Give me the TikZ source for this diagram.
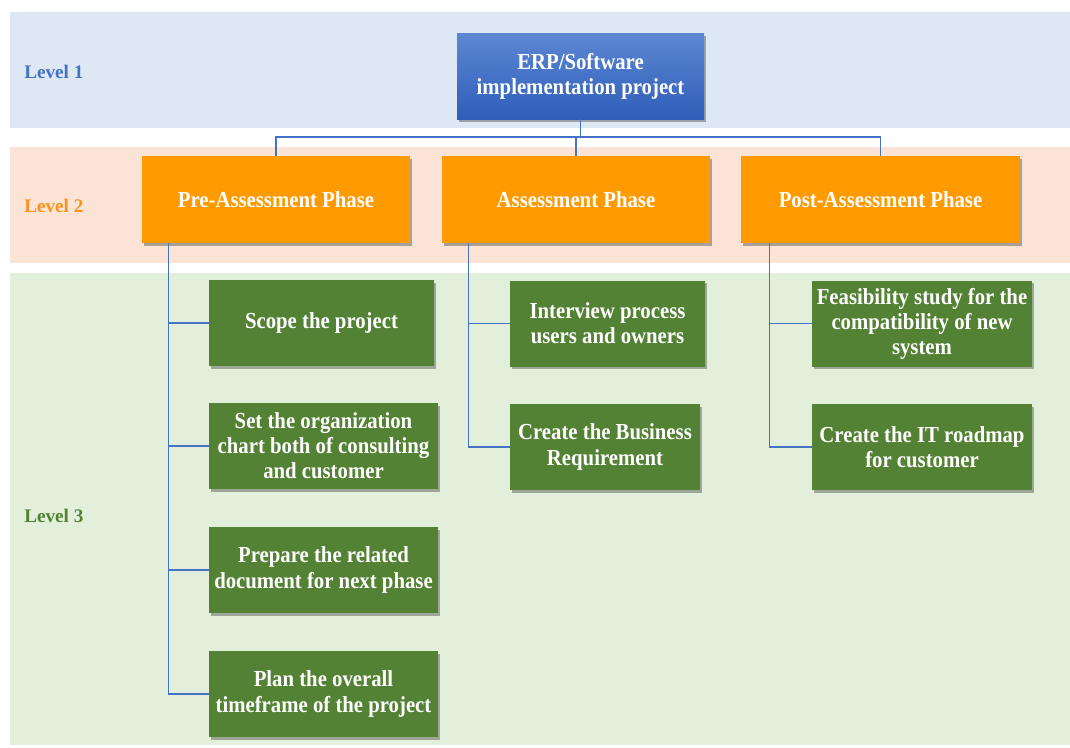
\documentclass[tikz,border=0pt]{standalone}
\usepackage{fontspec}
\setmainfont{Liberation Serif}
% a slightly condensed, taller face for the box captions
\newfontfamily\boxfont[FakeStretch=0.905]{Liberation Serif}
\usetikzlibrary{shadows,calc}

\definecolor{bandOne}{HTML}{DDE8F4}
\definecolor{bandTwo}{HTML}{FBE4D6}
\definecolor{bandThree}{HTML}{E2EFDA}
\definecolor{topLight}{HTML}{5C87D2}
\definecolor{topDark}{HTML}{2F5EB9}
\definecolor{phaseOrange}{HTML}{FF9A00}
\definecolor{taskGreen}{HTML}{548235}
\definecolor{lineBlue}{HTML}{4472C4}
\definecolor{labelOrange}{HTML}{F7941D}

\tikzset{
  boxbase/.style={inner sep=0pt, align=center, text=white,
    font=\boxfont\fontsize{17.2}{18.8}\selectfont\bfseries,
    drop shadow={shadow xshift=1.6pt, shadow yshift=-2pt, opacity=0.45, fill=black!70}},
  rootbox/.style={boxbase, top color=topLight, bottom color=topDark,
    minimum width=185.25pt, minimum height=64.5pt},
  phasebox/.style={boxbase, fill=phaseOrange, minimum height=65.25pt},
  taskbox/.style={boxbase, fill=taskGreen, minimum height=64.5pt},
  conn/.style={draw=lineBlue, line width=1.1pt},
  levellabel/.style={anchor=west, inner sep=0pt, font=\fontsize{14.4}{17}\selectfont\bfseries}
}

\begin{document}
\begin{tikzpicture}[x=0.75pt,y=-0.75pt]
  % canvas and level bands
  \fill[white] (0,0) rectangle (1070,747);
  \useasboundingbox (0,0) rectangle (1070,747);
  \fill[bandOne]   (10,12)  rectangle (1070,128);
  \fill[bandTwo]   (10,147) rectangle (1070,263);
  \fill[bandThree] (10,273) rectangle (1070,745);

  % level captions
  \node[levellabel, text=lineBlue]    (lv1) at (24,72)  {Level 1};
  \node[levellabel, text=labelOrange] (lv2) at (24,206) {Level 2};
  \node[levellabel, text=taskGreen]   (lv3) at (24,516) {Level 3};

  % level 1
  \node[rootbox] (root) at (580.5,76) {ERP/Software\\implementation project};

  % level 2
  \node[phasebox, minimum width=201pt]    (pre)  at (276,199.5)   {Pre-Assessment Phase};
  \node[phasebox, minimum width=201pt]    (ass)  at (576,199.5)   {Assessment Phase};
  \node[phasebox, minimum width=209.25pt] (post) at (880.5,199.5) {Post-Assessment Phase};

  % level 3: pre-assessment tasks
  \node[taskbox, minimum width=168.75pt] (p1) at (321.5,323) {Scope the project};
  \node[taskbox, minimum width=171.75pt] (p2) at (323.5,446) {Set the organization\\chart both of consulting\\and customer};
  \node[taskbox, minimum width=171.75pt] (p3) at (323.5,570) {Prepare the related\\document for next phase};
  \node[taskbox, minimum width=171.75pt] (p4) at (323.5,694) {Plan the overall\\timeframe of the project};

  % level 3: assessment tasks
  \node[taskbox, minimum width=146.25pt] (a1) at (607.5,323.5) {Interview process\\users and owners};
  \node[taskbox, minimum width=142.5pt]  (a2) at (605,447)     {Create the Business\\Requirement};

  % level 3: post-assessment tasks
  \node[taskbox, minimum width=165pt] (q1) at (922,323.5) {Feasibility study for the\\compatibility of new\\system};
  \node[taskbox, minimum width=165pt] (q2) at (922,447)   {Create the IT roadmap\\for customer};

  % connectors, level 1 to level 2
  \coordinate (bar) at (580.5,137);
  \draw[conn] (root.south) -- (bar);
  \draw[conn] (pre.north) |- (bar);
  \draw[conn] (post.north) |- (bar);
  \draw[conn] (ass.north) -- (ass.north |- bar);

  % connectors, level 2 to level 3
  \coordinate (preTrunk)  at ($(pre.south west)+(27,0)$);
  \coordinate (assTrunk)  at ($(ass.south west)+(27,0)$);
  \coordinate (postTrunk) at ($(post.south west)+(29,0)$);
  \foreach \t in {p1,p2,p3,p4} \draw[conn] (preTrunk) |- (\t.west);
  \foreach \t in {a1,a2} \draw[conn] (assTrunk) |- (\t.west);
  \foreach \t in {q1,q2} \draw[conn] (postTrunk) |- (\t.west);
\end{tikzpicture}
\end{document}
